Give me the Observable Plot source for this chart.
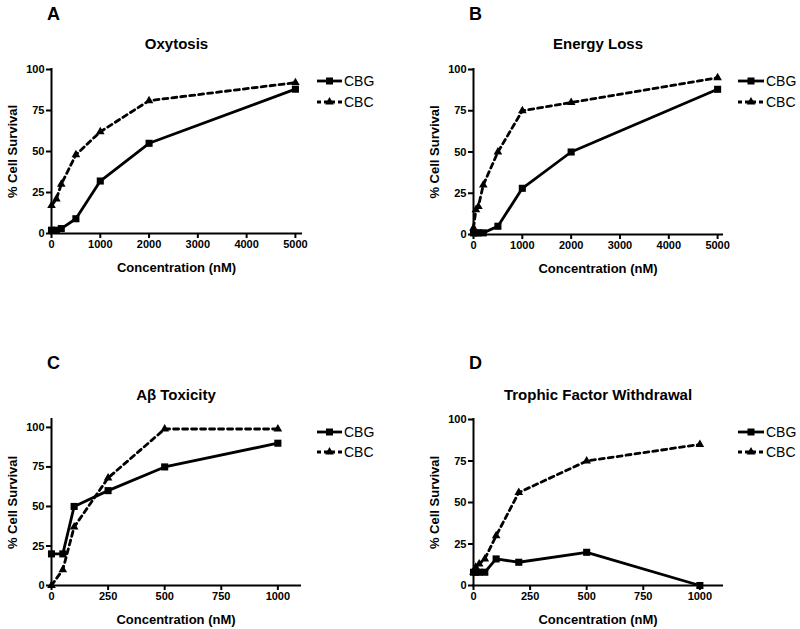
<!DOCTYPE html>
<html>
<head>
<meta charset="utf-8">
<script src="https://cdn.jsdelivr.net/npm/d3@7"></script>
<script src="https://cdn.jsdelivr.net/npm/@observablehq/plot@0.6"></script>
<style>
  html, body { margin: 0; padding: 0; background: #fff; }
  #root { position: relative; width: 800px; height: 629px; overflow: hidden; font-family: "Liberation Sans", Arial, sans-serif; }
  .panel { position: absolute; }
  .panel svg { overflow: visible; }
  #legend { position: absolute; left: 0; top: 0; }
</style>
</head>
<body>
<div id="root"></div>
<script>
// ---------- Data ----------
const seriesNames = ["CBG", "CBC"];

// Panel A: Oxytosis
const xA = [0, 100, 200, 500, 1000, 2000, 5000];
const cbgA = [2, 2, 3, 9, 32, 55, 88];
const cbcA = [17, 21, 30, 48, 62, 81, 92];

// Panel B: Energy Loss
const xB = [0, 50, 100, 200, 500, 1000, 2000, 5000];
const cbgB = [1, 1, 1, 1, 5, 28, 50, 88];
const cbcB = [4, 15, 17, 30, 50, 75, 80, 95];

// Panel C: Aβ Toxicity
const xC = [0, 50, 100, 250, 500, 1000];
const cbgC = [20, 20, 50, 60, 75, 90];
const cbcC = [0, 10, 37, 68, 99, 99];

// Panel D: Trophic Factor Withdrawal
const xD = [0, 10, 25, 50, 100, 200, 500, 1000];
const cbgD = [8, 8, 8, 8, 16, 14, 20, 0];
const cbcD = [8, 11, 13, 16, 30, 56, 75, 85];

const ticksXLarge = [0, 1000, 2000, 3000, 4000, 5000];
const ticksXSmall = [0, 250, 500, 750, 1000];
const ticksY = [0, 25, 50, 75, 100];

const panelLetters = ["A", "B", "C", "D"];
const panelTitles = ["Oxytosis", "Energy Loss", "A\u03B2 Toxicity", "Trophic Factor Withdrawal"];
const xLabel = "Concentration (nM)";
const yLabel = "% Cell Survival";

// ---------- Layout ----------
const panels = [
  {letter: panelLetters[0], title: panelTitles[0], xs: xA, cbg: cbgA, cbc: cbcA, xDomain: [0, 5125], yDomain: [0, 100], xTicks: ticksXLarge,
   left: 0, top: 0, width: 400, height: 290, mt: 69, mb: 57, ml: 51, mr: 99, legend: [317, 342, 81, 102]},
  {letter: panelLetters[1], title: panelTitles[1], xs: xB, cbg: cbgB, cbc: cbcB, xDomain: [0, 5100], yDomain: [0, 100], xTicks: ticksXLarge,
   left: 400, top: 0, width: 400, height: 290, mt: 69, mb: 56, ml: 73, mr: 78, legend: [738, 764, 81, 102]},
  {letter: panelLetters[2], title: panelTitles[2], xs: xC, cbg: cbgC, cbc: cbcC, xDomain: [0, 1100], yDomain: [0, 105], xTicks: ticksXSmall,
   left: 0, top: 330, width: 400, height: 299, mt: 89, mb: 44, ml: 51, mr: 100, legend: [317, 342, 432, 452]},
  {letter: panelLetters[3], title: panelTitles[3], xs: xD, cbg: cbgD, cbc: cbcD, xDomain: [0, 1100], yDomain: [0, 100], xTicks: ticksXSmall,
   left: 400, top: 330, width: 400, height: 299, mt: 89, mb: 44, ml: 73, mr: 78, legend: [738, 764, 432, 452]}
];

const root = document.getElementById("root");
const FONT = "Liberation Sans, Arial, sans-serif";

for (const p of panels) {
  const cbgData = p.xs.map((x, i) => ({x, y: p.cbg[i]}));
  const cbcData = p.xs.map((x, i) => ({x, y: p.cbc[i]}));
  const chart = Plot.plot({
    width: p.width,
    height: p.height,
    marginTop: p.mt,
    marginBottom: p.mb,
    marginLeft: p.ml,
    marginRight: p.mr,
    style: {fontFamily: FONT, fontSize: "11px", fontWeight: "bold", color: "#000", background: "transparent", overflow: "visible"},
    x: {domain: p.xDomain},
    y: {domain: p.yDomain},
    marks: [
      Plot.axisX({ticks: p.xTicks, tickFormat: "d", tickSize: 5, tickPadding: 2, strokeWidth: 2, label: null, fontWeight: "bold", fontSize: 11}),
      Plot.axisY({ticks: ticksY, tickFormat: "d", tickSize: 5, tickPadding: 2, strokeWidth: 2, label: null, fontWeight: "bold", fontSize: 11}),
      Plot.ruleY([0], {strokeWidth: 2, strokeLinecap: "square"}),
      Plot.ruleX([0], {strokeWidth: 2, strokeLinecap: "square"}),
      Plot.line(cbcData, {x: "x", y: "y", stroke: "#000", strokeWidth: 2.8, strokeDasharray: "5,4"}),
      Plot.line(cbgData, {x: "x", y: "y", stroke: "#000", strokeWidth: 2.8}),
      Plot.dot(cbcData, {x: "x", y: "y", symbol: "triangle", fill: "#000", r: 3.2}),
      Plot.dot(cbgData, {x: "x", y: "y", symbol: "square", fill: "#000", r: 4}),
      Plot.text([xLabel], {frameAnchor: "bottom", dy: 34, fontSize: 13, fontWeight: "bold", lineAnchor: "middle"}),
      Plot.text([yLabel], {frameAnchor: "left", dx: -39, rotate: -90, fontSize: 13, fontWeight: "bold", lineAnchor: "middle", textAnchor: "middle"}),
      Plot.text([p.title], {frameAnchor: "top", dy: p.mt === 69 ? -25 : -24, fontSize: 15, fontWeight: "bold", lineAnchor: "middle"}),
      Plot.text([p.letter], {frameAnchor: "top-left", dx: 2, dy: p.mt === 69 ? -55 : -56, fontSize: 18, fontWeight: "bold", lineAnchor: "middle", textAnchor: "middle"})
    ]
  });
  const div = document.createElement("div");
  div.className = "panel";
  div.style.left = p.left + "px";
  div.style.top = p.top + "px";
  div.appendChild(chart);
  root.appendChild(div);
}

// ---------- Legends (drawn once per panel) ----------
const ns = "http://www.w3.org/2000/svg";
const leg = document.createElementNS(ns, "svg");
leg.setAttribute("id", "legend");
leg.setAttribute("width", 800);
leg.setAttribute("height", 629);
function el(tag, attrs) {
  const e = document.createElementNS(ns, tag);
  for (const k in attrs) e.setAttribute(k, attrs[k]);
  leg.appendChild(e);
  return e;
}
for (const p of panels) {
  const [x1, x2, yG, yC] = p.legend;
  const xm = (x1 + x2) / 2;
  // CBG
  el("line", {x1, x2, y1: yG, y2: yG, stroke: "#000", "stroke-width": 2.8});
  el("rect", {x: xm - 3.5, y: yG - 3.5, width: 7, height: 7, fill: "#000"});
  const t1 = el("text", {x: x2 + 2, y: yG, "font-family": FONT, "font-size": 14, "dominant-baseline": "central", fill: "#000"});
  t1.textContent = seriesNames[0];
  // CBC
  el("line", {x1, x2, y1: yC, y2: yC, stroke: "#000", "stroke-width": 2.8, "stroke-dasharray": "4,3"});
  el("path", {d: d3.symbol(d3.symbolTriangle, Math.PI * 3.2 * 3.2)(), transform: `translate(${xm},${yC})`, fill: "#000"});
  const t2 = el("text", {x: x2 + 2, y: yC, "font-family": FONT, "font-size": 14, "dominant-baseline": "central", fill: "#000"});
  t2.textContent = seriesNames[1];
}
root.appendChild(leg);
</script>
</body>
</html>
